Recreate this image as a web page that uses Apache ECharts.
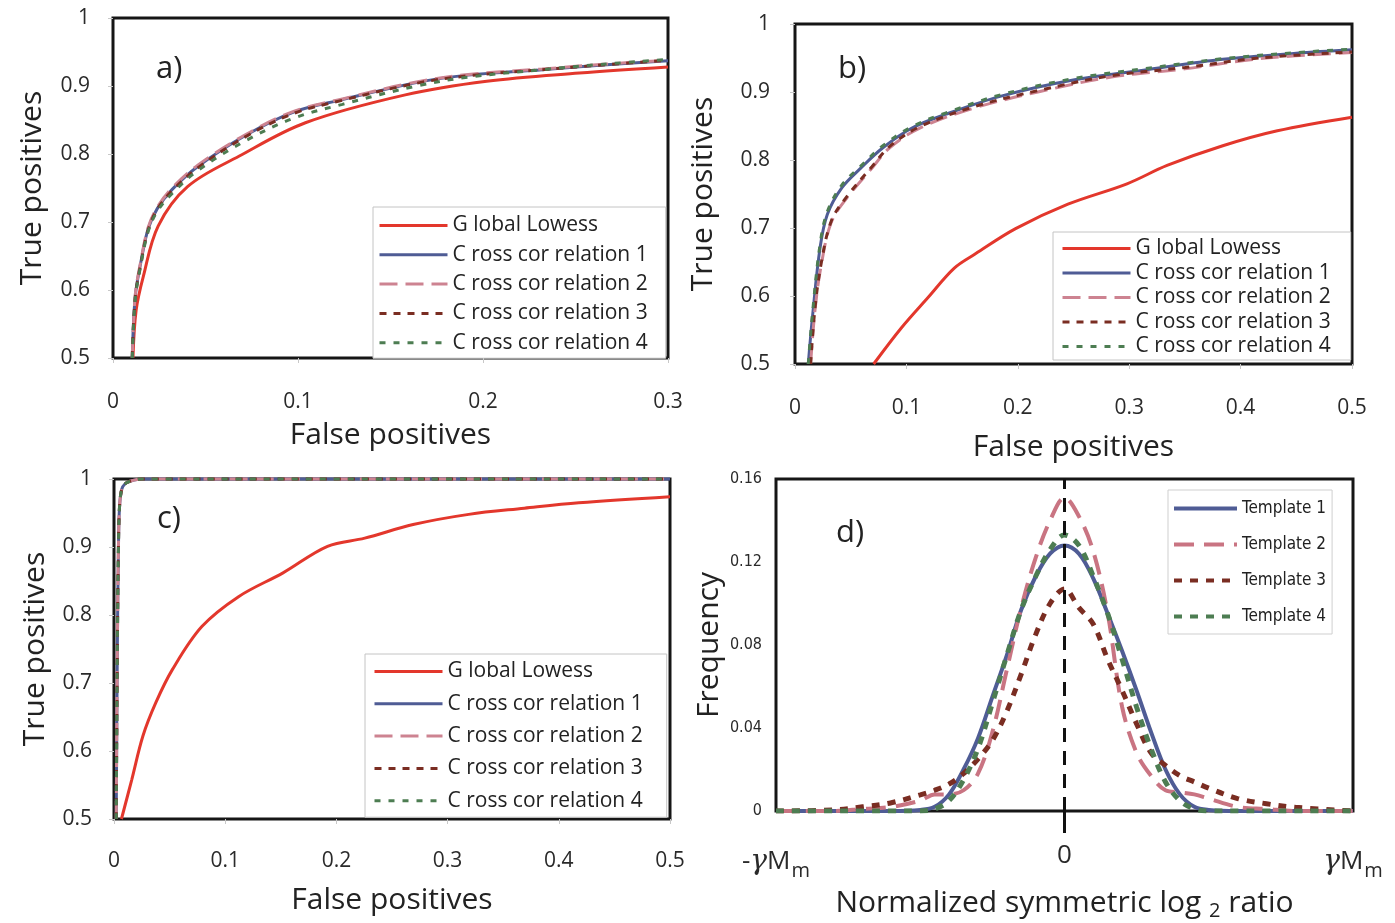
<!DOCTYPE html>
<html>
<head>
<meta charset="utf-8">
<title>ROC curves and template distributions</title>
<script src="https://cdn.jsdelivr.net/npm/echarts@6/dist/echarts.min.js"></script>
<style>
  html, body { margin: 0; padding: 0; background: #fff; }
  #chart { width: 1395px; height: 923px; }
</style>
</head>
<body>
<div id="chart"></div>
<script>
// legend names (spacing as printed in the figure)
const rocNames = ['G lobal Lowess', 'C ross cor relation 1', 'C ross cor relation 2', 'C ross cor relation 3', 'C ross cor relation 4']
const templateNames = ['Template 1', 'Template 2', 'Template 3', 'Template 4']

// panel a) false positives / true positives
const aLowessX = [0.0108, 0.0125, 0.0164, 0.0244, 0.0403, 0.0683, 0.104, 0.158, 0.202, 0.252, 0.30]
const aLowessY = [0.5, 0.57, 0.620, 0.694, 0.752, 0.797, 0.846, 0.887, 0.907, 0.919, 0.928]
const aCross1X = [0.0104, 0.012, 0.015, 0.019, 0.024, 0.032, 0.046, 0.072, 0.098, 0.124, 0.164, 0.192, 0.232, 0.265, 0.30]
const aCross1Y = [0.5, 0.59, 0.64, 0.69, 0.72, 0.748, 0.782, 0.828, 0.862, 0.880, 0.905, 0.916, 0.924, 0.931, 0.937]
const aCross2Y = [0.5, 0.592, 0.642, 0.692, 0.722, 0.750, 0.784, 0.829, 0.863, 0.881, 0.906, 0.917, 0.925, 0.932, 0.938]
const aCross3Y = [0.5, 0.588, 0.638, 0.688, 0.719, 0.746, 0.780, 0.826, 0.860, 0.879, 0.904, 0.915, 0.924, 0.931, 0.938]
const aCross4Y = [0.5, 0.586, 0.636, 0.686, 0.716, 0.742, 0.776, 0.820, 0.853, 0.873, 0.900, 0.913, 0.924, 0.932, 0.939]

// panel b)
const bLowessX = [0.0706, 0.0954, 0.119, 0.143, 0.162, 0.198, 0.245, 0.298, 0.334, 0.384, 0.433, 0.5]
const bLowessY = [0.5, 0.553, 0.597, 0.641, 0.662, 0.699, 0.735, 0.765, 0.792, 0.821, 0.843, 0.863]
const bCross1X = [0.0119, 0.0159, 0.0225, 0.029, 0.042, 0.059, 0.0789, 0.105, 0.135, 0.185, 0.251, 0.317, 0.384, 0.45, 0.5]
const bCross1Y = [0.5, 0.573, 0.671, 0.720, 0.759, 0.788, 0.818, 0.847, 0.867, 0.894, 0.918, 0.933, 0.948, 0.957, 0.962]
const bCross4Y = [0.5, 0.578, 0.676, 0.724, 0.763, 0.791, 0.821, 0.849, 0.869, 0.896, 0.920, 0.935, 0.949, 0.958, 0.963]
const bCross2X = [0.014, 0.018, 0.0235, 0.0325, 0.046, 0.069, 0.085, 0.112, 0.162, 0.218, 0.284, 0.350, 0.417, 0.5]
const bCross2Y = [0.5, 0.58, 0.645, 0.708, 0.743, 0.788, 0.818, 0.847, 0.877, 0.900, 0.922, 0.934, 0.949, 0.958]
const bCross3Y = [0.5, 0.583, 0.648, 0.710, 0.745, 0.790, 0.820, 0.849, 0.879, 0.902, 0.924, 0.936, 0.950, 0.959]

// panel c)
const cLowessX = [0.0067, 0.016, 0.026, 0.0376, 0.0526, 0.079, 0.112, 0.152, 0.192, 0.2255, 0.269, 0.319, 0.369, 0.418, 0.5]
const cLowessY = [0.5, 0.558, 0.622, 0.671, 0.720, 0.783, 0.827, 0.862, 0.901, 0.913, 0.933, 0.948, 0.957, 0.965, 0.974]
const cCrossX = [0.002, 0.003, 0.004, 0.005, 0.007, 0.01, 0.015, 0.025, 0.5]
const cCrossY = [0.5, 0.75, 0.9, 0.96, 0.985, 0.993, 0.997, 1, 1]

// panel d) frequency vs normalized symmetric log2 ratio (-1 = -yMm, 1 = yMm)
const dRatio = [-1, -0.8, -0.7, -0.6, -0.5, -0.45, -0.4, -0.35, -0.3, -0.25, -0.2, -0.15, -0.1, -0.05, 0, 0.05, 0.1, 0.15, 0.2, 0.25, 0.3, 0.35, 0.4, 0.45, 0.5, 0.6, 0.7, 0.8, 1]
const dTemplate1 = [0, 0, 0, 0, 0.0005, 0.002, 0.008, 0.02, 0.035, 0.055, 0.075, 0.097, 0.113, 0.124, 0.128, 0.124, 0.112, 0.095, 0.077, 0.058, 0.038, 0.02, 0.008, 0.002, 0.0005, 0, 0, 0, 0]
const dTemplate2 = [0, 0, 0.001, 0.002, 0.005, 0.008, 0.008, 0.01, 0.018, 0.038, 0.068, 0.098, 0.122, 0.14, 0.151, 0.142, 0.125, 0.095, 0.05, 0.028, 0.017, 0.01, 0.009, 0.008, 0.006, 0.002, 0.001, 0, 0]
const dTemplate3 = [0, 0.0005, 0.002, 0.004, 0.0078, 0.01, 0.013, 0.018, 0.025, 0.034, 0.048, 0.066, 0.085, 0.1, 0.107, 0.098, 0.09, 0.073, 0.058, 0.042, 0.028, 0.022, 0.017, 0.014, 0.011, 0.006, 0.0035, 0.0018, 0]
const dTemplate4 = [0, 0, 0, 0, 0, 0.001, 0.005, 0.015, 0.03, 0.052, 0.075, 0.097, 0.113, 0.126, 0.133, 0.128, 0.113, 0.095, 0.073, 0.05, 0.03, 0.014, 0.005, 0.001, 0, 0, 0, 0, 0]

const FONT = "'Open Sans', 'Noto Sans', sans-serif"
const NARROW = "'Liberation Sans Narrow', 'DejaVu Sans Condensed', sans-serif"
const colors = { red: '#e3372c', blue: '#4f5c95', pink: '#cd8391', brown: '#7a2d22', green: '#4d7d52' }

const rocStyles = [
  { color: colors.red, type: 'solid' },
  { color: colors.blue, type: 'solid' },
  { color: colors.pink, type: [18, 8] },
  { color: colors.brown, type: [7, 7] },
  { color: colors.green, type: [6, 8] }
]

function pairs(xs, ys) {
  return xs.map((x, i) => [x, ys[i]])
}

function lineSeries(name, idx, data, style, width, clip) {
  return {
    type: 'line',
    name: name,
    xAxisIndex: idx,
    yAxisIndex: idx,
    data: data,
    symbol: 'none',
    smooth: 0.35,
    clip: clip,
    lineStyle: { color: style.color, type: style.type, width: width },
    itemStyle: { color: style.color }
  }
}

function rocGroup(idx, sets) {
  return sets.map((d, i) => lineSeries(rocNames[i], idx, d, rocStyles[i], 3, idx !== 2))
}

const series = [].concat(
  rocGroup(0, [
    pairs(aLowessX, aLowessY), pairs(aCross1X, aCross1Y), pairs(aCross1X, aCross2Y),
    pairs(aCross1X, aCross3Y), pairs(aCross1X, aCross4Y)
  ]),
  rocGroup(1, [
    pairs(bLowessX, bLowessY), pairs(bCross1X, bCross1Y), pairs(bCross2X, bCross2Y),
    pairs(bCross2X, bCross3Y), pairs(bCross1X, bCross4Y)
  ]),
  rocGroup(2, [
    pairs(cLowessX, cLowessY), pairs(cCrossX, cCrossY), pairs(cCrossX, cCrossY),
    pairs(cCrossX, cCrossY), pairs(cCrossX, cCrossY)
  ]),
  [
    lineSeries(templateNames[0], 3, pairs(dRatio, dTemplate1), { color: colors.blue, type: 'solid' }, 4, true),
    lineSeries(templateNames[1], 3, pairs(dRatio, dTemplate2), { color: '#c97482', type: [20, 10] }, 4, true),
    lineSeries(templateNames[2], 3, pairs(dRatio, dTemplate3), { color: colors.brown, type: [8, 8] }, 5, true),
    lineSeries(templateNames[3], 3, pairs(dRatio, dTemplate4), { color: colors.green, type: [8, 8] }, 5, true)
  ]
)

// dashed zero line on panel d
series[15].markLine = {
  silent: true,
  symbol: ['none', 'none'],
  label: { show: false },
  lineStyle: { color: '#111', type: [14, 9], width: 3 },
  data: [{ xAxis: 0 }]
}

function valueAxis(idx, min, max, interval, name, nameGap, margin, fontSize) {
  return {
    type: 'value',
    gridIndex: idx,
    min: min,
    max: max,
    interval: interval,
    splitLine: { show: false },
    axisLine: { show: false },
    axisTick: { show: true, length: 5, lineStyle: { color: '#c8c8c8' } },
    axisLabel: { margin: margin, fontSize: fontSize, color: '#2a2a2a', fontFamily: FONT },
    name: name,
    nameLocation: 'middle',
    nameGap: nameGap,
    nameTextStyle: { fontSize: 30, color: '#222', fontFamily: FONT }
  }
}

const gridBox = { show: true, borderColor: '#161616', borderWidth: 3, backgroundColor: 'transparent' }

const xD = valueAxis(3, -1, 1, 1, 'Normalized symmetric log {s|2} ratio', 74, 32, 26)
xD.axisTick = { show: true, customValues: [0], length: 22, lineStyle: { color: '#111', width: 3 } }
xD.axisLabel.formatter = v => v === 0 ? '0' : (v < 0 ? '-{g|γ}M{m|m}' : '{g|γ}M{m|m}')
xD.axisLabel.rich = {
  g: { fontSize: 28, fontStyle: 'italic', fontFamily: 'DejaVu Serif', color: '#2a2a2a' },
  m: { fontSize: 20, padding: [18, 0, 0, 1], fontFamily: FONT, color: '#2a2a2a' }
}
xD.nameTextStyle.rich = { s: { fontSize: 20, padding: [16, 0, 0, 0], fontFamily: FONT, color: '#222' } }

const yD = valueAxis(3, 0, 0.16, 0.04, 'Frequency', 52, 14, 16)
yD.axisTick = { show: false }
yD.axisLabel.fontFamily = NARROW

function rocLegend(left, top, gap, pad) {
  return {
    data: rocNames,
    orient: 'vertical',
    left: left,
    top: top,
    itemWidth: 68,
    itemHeight: 4,
    itemGap: gap,
    selectedMode: false,
    itemStyle: { opacity: 0 },
    lineStyle: { width: 3 },
    backgroundColor: '#fff',
    borderColor: '#c4c4c4',
    borderWidth: 1,
    padding: pad,
    textStyle: { fontSize: 21, color: '#222', fontFamily: FONT }
  }
}

const chart = echarts.init(document.getElementById('chart'))
chart.setOption({
  animation: false,
  backgroundColor: '#fff',
  grid: [
    Object.assign({ left: 113, top: 18, width: 555, height: 340 }, gridBox),
    Object.assign({ left: 795, top: 24, width: 557, height: 340 }, gridBox),
    Object.assign({ left: 114, top: 479, width: 556, height: 340 }, gridBox),
    Object.assign({ left: 776, top: 479, width: 577, height: 332 }, gridBox)
  ],
  xAxis: [
    valueAxis(0, 0, 0.3, 0.1, 'False positives', 62, 34, 21),
    valueAxis(1, 0, 0.5, 0.1, 'False positives', 68, 34, 21),
    valueAxis(2, 0, 0.5, 0.1, 'False positives', 66, 32, 21),
    xD
  ],
  yAxis: [
    valueAxis(0, 0.5, 1, 0.1, 'True positives', 66, 23, 21),
    valueAxis(1, 0.5, 1, 0.1, 'True positives', 77, 25, 21),
    valueAxis(2, 0.5, 1, 0.1, 'True positives', 64, 22, 21),
    yD
  ],
  legend: [
    rocLegend(373, 207, 8.3, [8, 18, 5, 5]),
    rocLegend(1053, 232, 3.5, [6, 20, 3, 8]),
    rocLegend(365, 654, 11.3, [7, 24, 6, 8]),
    {
      data: templateNames,
      orient: 'vertical',
      left: 1168,
      top: 490,
      itemWidth: 63,
      itemHeight: 4,
      itemGap: 19,
      selectedMode: false,
      itemStyle: { opacity: 0 },
      lineStyle: { width: 4 },
      backgroundColor: '#fff',
      borderColor: '#cfcfcf',
      borderWidth: 1,
      padding: [10, 6, 9, 4],
      textStyle: { fontSize: 17, color: '#222', fontFamily: NARROW }
    }
  ],
  graphic: [
    { type: 'text', left: 156, top: 54, style: { text: 'a)', fontSize: 31, fill: '#222', fontFamily: FONT } },
    { type: 'text', left: 838, top: 54, style: { text: 'b)', fontSize: 31, fill: '#222', fontFamily: FONT } },
    { type: 'text', left: 157, top: 504, style: { text: 'c)', fontSize: 31, fill: '#222', fontFamily: FONT } },
    { type: 'text', left: 836, top: 518, style: { text: 'd)', fontSize: 31, fill: '#222', fontFamily: FONT } }
  ],
  series: series
})
</script>
</body>
</html>
